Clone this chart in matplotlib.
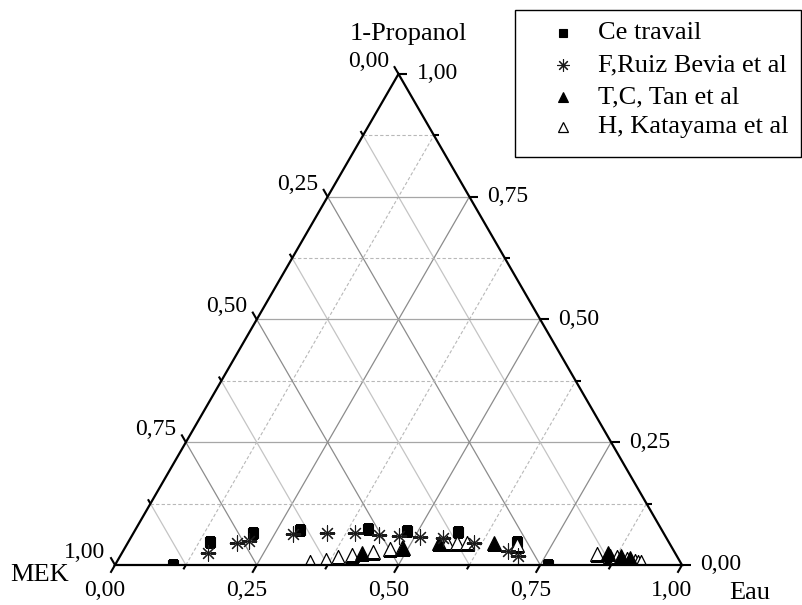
import numpy as np
import matplotlib
matplotlib.use("Agg")
import matplotlib.pyplot as plt
from matplotlib.patches import Polygon, Rectangle

plt.rcParams['font.family'] = ['Liberation Serif', 'DejaVu Serif']

# Compositions (fractions): Eau and 1-Propanol; MEK = 1 - Eau - 1-Propanol
ce_eau = [0.102, 0.144, 0.211, 0.291, 0.409, 0.480, 0.571, 0.686, 0.763]
ce_prop = [0.000, 0.047, 0.065, 0.071, 0.073, 0.069, 0.067, 0.047, 0.000]

ruiz_eau = [0.152, 0.193, 0.212, 0.282, 0.341, 0.391, 0.435, 0.471, 0.509,
            0.551, 0.611, 0.679, 0.702]
ruiz_prop = [0.024, 0.045, 0.049, 0.063, 0.065, 0.065, 0.061, 0.059, 0.057,
             0.055, 0.045, 0.029, 0.018]

tan_eau = [0.423, 0.491, 0.549, 0.646, 0.857, 0.883, 0.901]
tan_prop = [0.024, 0.035, 0.045, 0.045, 0.024, 0.018, 0.014]

kata_eau = [0.341, 0.367, 0.385, 0.408, 0.442, 0.469, 0.489, 0.563, 0.581,
            0.598, 0.689, 0.839, 0.864, 0.877, 0.897, 0.913, 0.919, 0.925]
kata_prop = [0.006, 0.010, 0.016, 0.020, 0.026, 0.033, 0.035, 0.045, 0.045,
             0.045, 0.041, 0.022, 0.018, 0.016, 0.012, 0.008, 0.006, 0.006]

ticks = np.arange(0, 1.0001, 0.125)
major = [0.0, 0.25, 0.5, 0.75, 1.0]

W, H = 802, 605
fig = plt.figure(figsize=(W / 100, H / 100), dpi=100)
ax = fig.add_axes([0, 0, 1, 1])
S = 567.0            # triangle side in pixels
x0, y0 = 115.0, 40.0  # MEK corner, pixels from left / bottom
ax.set_xlim(-x0 / S, (W - x0) / S)
ax.set_ylim(-y0 / S, (H - y0) / S)
ax.set_aspect('equal')
ax.axis('off')

h = np.sqrt(3) / 2


def tern(w, p):
    w = np.asarray(w, float)
    p = np.asarray(p, float)
    return w + p / 2, p * h


def is_major(v):
    return any(abs(v - m) < 1e-6 for m in major)


# grid lines
for v in ticks[1:-1]:
    mj = is_major(v)
    # constant 1-Propanol (horizontal)
    xs, ys = tern([0, 1 - v], [v, v])
    if mj:
        ax.plot(xs, ys, color='#a6a6a6', lw=0.9, zorder=1)
    else:
        ax.plot(xs, ys, color='#b8b8b8', lw=0.8, ls=(0, (3, 2)), zorder=1)
    # constant Eau (parallel to left edge)
    xs, ys = tern([v, v], [0, 1 - v])
    if mj:
        ax.plot(xs, ys, color='#8c8c8c', lw=0.9, zorder=1)
    else:
        ax.plot(xs, ys, color='#b8b8b8', lw=0.8, ls=(0, (3, 2)), zorder=1)
    # constant MEK (parallel to right edge)
    xs, ys = tern([1 - v, 0], [0, 1 - v])
    if mj:
        ax.plot(xs, ys, color='#8c8c8c', lw=0.9, zorder=1)
    else:
        ax.plot(xs, ys, color='#c4c4c4', lw=0.9, zorder=1)

# frame
tri_x, tri_y = tern([0, 1, 0], [0, 0, 1])
frame = Polygon(np.column_stack([tri_x, tri_y]), closed=True, fill=False,
                edgecolor='black', lw=1.6, zorder=5, joinstyle='miter')
ax.add_patch(frame)
clip = Polygon(np.column_stack([tri_x, tri_y]), closed=True,
               transform=ax.transData, fill=False, lw=0)
ax.add_patch(clip)
clip.set_visible(False)

# ticks and tick labels
def fmt(v):
    return f"{v:.2f}".replace('.', ',')

dl = np.array([-0.5, h])    # MEK axis ticks
dr = np.array([1.0, 0.0])   # 1-Propanol axis ticks
db = np.array([-0.5, -h])   # Eau axis ticks
tick_fs = 17
for v in ticks:
    L = (9.0 if is_major(v) else 5.0) / S
    # left edge: MEK = v  -> p = 1 - v, w = 0
    px, py = tern(0, 1 - v)
    ax.plot([px, px + dl[0] * L], [py, py + dl[1] * L], color='black', lw=1.5,
            zorder=6, solid_capstyle='butt')
    # right edge: 1-Propanol = v -> w = 1 - v
    qx, qy = tern(1 - v, v)
    ax.plot([qx, qx + dr[0] * L], [qy, qy + dr[1] * L], color='black', lw=1.5,
            zorder=6, solid_capstyle='butt')
    # bottom edge: Eau = v
    bx, by = tern(v, 0)
    ax.plot([bx, bx + db[0] * L], [by, by + db[1] * L], color='black', lw=1.5,
            zorder=6, solid_capstyle='butt')
    if is_major(v):
        ax.annotate(fmt(v), (px, py), xytext=(-9.5 * 0.72, 7 * 0.72),
                    textcoords='offset points', ha='right', va='baseline',
                    fontsize=tick_fs)
        ax.annotate(fmt(v), (qx, qy), xytext=(18 * 0.72, 0),
                    textcoords='offset points', ha='left', va='center',
                    fontsize=tick_fs)
        ax.annotate(fmt(v), (bx, by), xytext=(-10 * 0.72, -26 * 0.72),
                    textcoords='offset points', ha='center', va='center',
                    fontsize=tick_fs)

# axis titles
title_fs = 19
fig.text(408 / W, 1 - 40 / H, '1-Propanol', ha='center', va='baseline', fontsize=title_fs)
fig.text(40 / W, 1 - 575 / H, 'MEK', ha='center', va='center', fontsize=title_fs)
fig.text(750 / W, 1 - 593 / H, 'Eau', ha='center', va='center', fontsize=title_fs)

# data series
styles = {
    'Ce travail': dict(marker='s', ms=6.8, mfc='black', mec='black', mew=0.8),
    'F,Ruiz Bevia et al': dict(marker=(8, 2, 0), ms=11, mfc='none', mec='#1a1a1a', mew=0.8),
    'T,C, Tan et al': dict(marker='^', ms=9.5, mfc='black', mec='black', mew=0.8),
    'H, Katayama et al': dict(marker='^', ms=9.5, mfc='white', mec='black', mew=0.9),
}
series = [
    ('Ce travail', ce_eau, ce_prop),
    ('H, Katayama et al', kata_eau, kata_prop),
    ('T,C, Tan et al', tan_eau, tan_prop),
    ('F,Ruiz Bevia et al', ruiz_eau, ruiz_prop),
]
for name, w, p in series:
    xs, ys = tern(w, p)
    ln, = ax.plot(xs, ys, ls='none', zorder=4, **styles[name])
    ln.set_clip_path(clip)

# legend box
lx0, ly0, lx1, ly1 = 515, 10, 801, 157
fig.patches.append(Rectangle((lx0 / W, 1 - ly1 / H), (lx1 - lx0) / W, (ly1 - ly0) / H,
                             transform=fig.transFigure, fill=False,
                             edgecolor='black', lw=1.0))
legend_names = ['Ce travail', 'F,Ruiz Bevia et al', 'T,C, Tan et al', 'H, Katayama et al']
legend_rows = [33, 65, 97, 127]
leg_ax = fig.add_axes([0, 0, 1, 1], facecolor='none')
leg_ax.set_xlim(0, W)
leg_ax.set_ylim(H, 0)
leg_ax.axis('off')
for name, yy in zip(legend_names, legend_rows):
    st = dict(styles[name])
    st['ms'] = st['ms'] * 0.8
    leg_ax.plot([563], [yy], ls='none', **st)
    leg_ax.text(598, yy, name, ha='left', va='center', fontsize=19)

fig.savefig('out.png', dpi=100)
